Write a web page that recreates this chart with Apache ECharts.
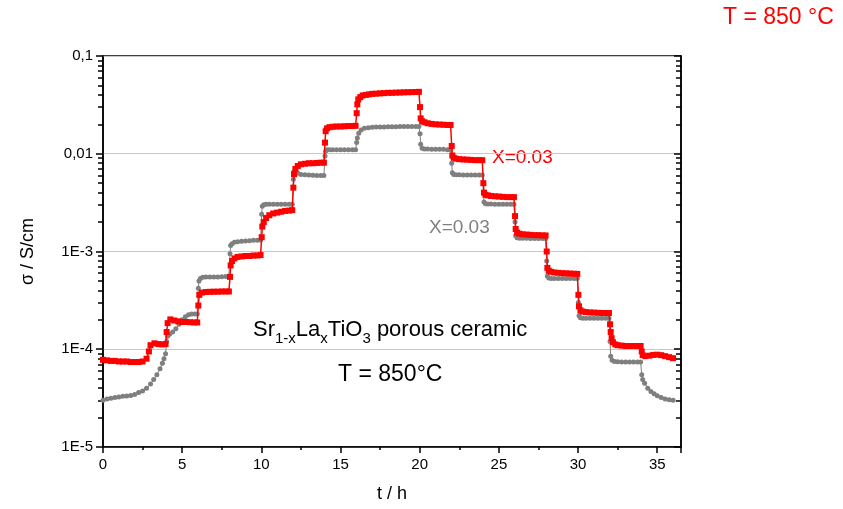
<!DOCTYPE html>
<html>
<head>
<meta charset="utf-8">
<script src="https://cdn.jsdelivr.net/npm/echarts@6/dist/echarts.min.js"></script>
<style>html,body{margin:0;padding:0;background:#fff;}#c{width:843px;height:509px;}</style>
</head>
<body>
<div id="c"></div>
<script>
const xTicks = [0, 5, 10, 15, 20, 25, 30, 35];
const yTickLabels = {'-5': '1E-5', '-4': '1E-4', '-3': '1E-3', '-2': '0,01', '-1': '0,1'};

const redSeries = [
[0,7.8e-5],[0.25,7.7e-5],[0.5,7.6e-5],[0.75,7.6e-5],[1,7.5e-5],[1.25,7.5e-5],[1.5,7.5e-5],[1.75,7.4e-5],[2,7.4e-5],[2.25,7.4e-5],[2.5,7.5e-5],[2.75,8.0e-5],[2.9,9.5e-5],[3,1.1e-4],[3.25,1.15e-4],[3.5,1.13e-4],[3.75,1.12e-4],[3.95,1.13e-4],
[4.02,1.5e-4],[4.08,1.85e-4],[4.25,2.02e-4],[4.5,1.97e-4],[4.75,1.93e-4],[5,1.9e-4],[5.25,1.9e-4],[5.5,1.89e-4],[5.75,1.88e-4],[5.95,1.88e-4],
[6.02,2.8e-4],[6.08,3.6e-4],[6.25,3.8e-4],[6.5,3.85e-4],[6.75,3.87e-4],[7,3.88e-4],[7.25,3.88e-4],[7.5,3.9e-4],[7.75,3.9e-4],[7.95,3.9e-4],
[8.02,5.5e-4],[8.06,7.2e-4],[8.15,8.0e-4],[8.3,8.5e-4],[8.5,8.8e-4],[8.75,8.9e-4],[9,9.0e-4],[9.25,9.0e-4],[9.5,9.1e-4],[9.75,9.1e-4],[9.95,9.2e-4],
[10.02,1.4e-3],[10.06,1.8e-3],[10.15,2.0e-3],[10.3,2.2e-3],[10.5,2.35e-3],[10.75,2.45e-3],[11,2.5e-3],[11.25,2.55e-3],[11.5,2.6e-3],[11.75,2.62e-3],[11.95,2.65e-3],
[12.02,4.5e-3],[12.06,6.2e-3],[12.15,7.0e-3],[12.3,7.5e-3],[12.5,7.8e-3],[12.75,7.9e-3],[13,8.0e-3],[13.25,8.0e-3],[13.5,8.05e-3],[13.75,8.1e-3],[13.95,8.1e-3],
[14.02,1.3e-2],[14.06,1.7e-2],[14.15,1.82e-2],[14.3,1.87e-2],[14.5,1.89e-2],[14.75,1.9e-2],[15,1.9e-2],[15.25,1.91e-2],[15.5,1.92e-2],[15.75,1.92e-2],[15.95,1.93e-2],
[16.02,2.6e-2],[16.06,3.2e-2],[16.12,3.6e-2],[16.25,3.8e-2],[16.4,3.95e-2],[16.6,4.0e-2],[16.8,4.05e-2],[17,4.1e-2],[17.25,4.12e-2],[17.5,4.15e-2],[17.75,4.17e-2],[18,4.2e-2],[18.25,4.2e-2],[18.5,4.22e-2],[18.75,4.23e-2],[19,4.25e-2],[19.25,4.26e-2],[19.5,4.27e-2],[19.75,4.28e-2],[19.95,4.3e-2],
[20.02,3.0e-2],[20.06,2.3e-2],[20.15,2.15e-2],[20.3,2.1e-2],[20.5,2.05e-2],[20.75,2.02e-2],[21,2.0e-2],[21.25,1.99e-2],[21.5,1.98e-2],[21.75,1.97e-2],[21.95,1.97e-2],
[22.02,1.2e-2],[22.06,9.6e-3],[22.15,9.1e-3],[22.3,8.9e-3],[22.5,8.8e-3],[22.75,8.75e-3],[23,8.7e-3],[23.25,8.65e-3],[23.5,8.6e-3],[23.75,8.6e-3],[23.95,8.6e-3],
[24.02,5.0e-3],[24.06,4.0e-3],[24.15,3.8e-3],[24.3,3.75e-3],[24.5,3.7e-3],[24.75,3.67e-3],[25,3.65e-3],[25.25,3.62e-3],[25.5,3.6e-3],[25.75,3.6e-3],[25.95,3.6e-3],
[26.02,2.3e-3],[26.06,1.7e-3],[26.15,1.56e-3],[26.3,1.52e-3],[26.5,1.5e-3],[26.75,1.49e-3],[27,1.48e-3],[27.25,1.47e-3],[27.5,1.47e-3],[27.75,1.46e-3],[27.95,1.46e-3],
[28.02,1.0e-3],[28.06,6.8e-4],[28.15,6.35e-4],[28.3,6.2e-4],[28.5,6.1e-4],[28.75,6.05e-4],[29,6.0e-4],[29.25,5.98e-4],[29.5,5.95e-4],[29.75,5.92e-4],[29.95,5.9e-4],
[30.02,3.6e-4],[30.06,2.75e-4],[30.15,2.5e-4],[30.3,2.43e-4],[30.5,2.4e-4],[30.75,2.38e-4],[31,2.37e-4],[31.25,2.36e-4],[31.5,2.35e-4],[31.75,2.35e-4],[31.95,2.35e-4],
[32.02,1.8e-4],[32.06,1.5e-4],[32.12,1.3e-4],[32.2,1.18e-4],[32.35,1.12e-4],[32.5,1.1e-4],[32.75,1.09e-4],[33,1.08e-4],[33.25,1.08e-4],[33.5,1.08e-4],[33.75,1.08e-4],[33.95,1.08e-4],
[34.02,9.5e-5],[34.08,8.7e-5],[34.25,8.5e-5],[34.5,8.6e-5],[34.75,8.75e-5],[35,8.8e-5],[35.25,8.7e-5],[35.5,8.5e-5],[35.75,8.3e-5],[36,8.1e-5]
];

const graySeries = [
[0,3.0e-5],[0.25,3.1e-5],[0.5,3.15e-5],[0.75,3.2e-5],[1,3.25e-5],[1.25,3.3e-5],[1.5,3.33e-5],[1.75,3.37e-5],[2,3.45e-5],[2.25,3.6e-5],[2.5,3.75e-5],[2.75,4.0e-5],[3,4.4e-5],[3.2,4.9e-5],[3.4,5.5e-5],[3.6,6.3e-5],[3.75,7.2e-5],[3.85,8.0e-5],[3.95,9.0e-5],[4.02,1.2e-4],[4.08,1.36e-4],
[4.2,1.42e-4],[4.4,1.5e-4],[4.6,1.62e-4],[4.8,1.8e-4],[5,2.0e-4],[5.2,2.15e-4],[5.4,2.25e-4],[5.6,2.3e-4],[5.8,2.3e-4],[5.95,2.3e-4],
[6.02,4.2e-4],[6.06,5.0e-4],[6.15,5.3e-4],[6.3,5.45e-4],[6.5,5.5e-4],[6.75,5.5e-4],[7,5.5e-4],[7.25,5.5e-4],[7.5,5.52e-4],[7.75,5.55e-4],[7.95,5.55e-4],
[8.02,9.5e-4],[8.06,1.15e-3],[8.15,1.2e-3],[8.3,1.24e-3],[8.5,1.26e-3],[8.75,1.27e-3],[9,1.28e-3],[9.25,1.29e-3],[9.5,1.3e-3],[9.75,1.3e-3],[9.95,1.31e-3],
[10.02,2.4e-3],[10.06,2.9e-3],[10.15,3.0e-3],[10.3,3.05e-3],[10.5,3.05e-3],[10.75,3.05e-3],[11,3.05e-3],[11.25,3.05e-3],[11.5,3.05e-3],[11.75,3.05e-3],[11.95,3.05e-3],
[12.02,5.5e-3],[12.06,6.6e-3],[12.15,6.5e-3],[12.3,6.3e-3],[12.5,6.15e-3],[12.75,6.1e-3],[13,6.05e-3],[13.25,6.02e-3],[13.5,6.0e-3],[13.75,6.0e-3],[13.95,6.0e-3],
[14.02,9.5e-3],[14.06,1.07e-2],[14.15,1.1e-2],[14.3,1.1e-2],[14.5,1.1e-2],[14.75,1.1e-2],[15,1.1e-2],[15.25,1.1e-2],[15.5,1.1e-2],[15.75,1.1e-2],[15.95,1.1e-2],
[16.02,1.3e-2],[16.06,1.45e-2],[16.15,1.62e-2],[16.3,1.75e-2],[16.5,1.82e-2],[16.75,1.85e-2],[17,1.87e-2],[17.25,1.88e-2],[17.5,1.88e-2],[17.75,1.88e-2],[18,1.89e-2],[18.25,1.89e-2],[18.5,1.89e-2],[18.75,1.9e-2],[19,1.9e-2],[19.25,1.9e-2],[19.5,1.9e-2],[19.75,1.9e-2],[19.95,1.9e-2],
[20.02,1.6e-2],[20.06,1.25e-2],[20.15,1.14e-2],[20.3,1.12e-2],[20.5,1.12e-2],[20.75,1.11e-2],[21,1.11e-2],[21.25,1.11e-2],[21.5,1.11e-2],[21.75,1.1e-2],[21.95,1.1e-2],
[22.02,8.0e-3],[22.06,6.4e-3],[22.15,6.15e-3],[22.3,6.1e-3],[22.5,6.08e-3],[22.75,6.07e-3],[23,6.07e-3],[23.25,6.06e-3],[23.5,6.05e-3],[23.75,6.05e-3],[23.95,6.05e-3],
[24.02,4.0e-3],[24.06,3.2e-3],[24.15,3.08e-3],[24.3,3.06e-3],[24.5,3.06e-3],[24.75,3.05e-3],[25,3.05e-3],[25.25,3.05e-3],[25.5,3.05e-3],[25.75,3.05e-3],[25.95,3.05e-3],
[26.02,2.0e-3],[26.06,1.45e-3],[26.15,1.38e-3],[26.3,1.37e-3],[26.5,1.37e-3],[26.75,1.37e-3],[27,1.36e-3],[27.25,1.36e-3],[27.5,1.36e-3],[27.75,1.36e-3],[27.95,1.36e-3],
[28.02,8.0e-4],[28.06,5.6e-4],[28.15,5.35e-4],[28.3,5.3e-4],[28.5,5.3e-4],[28.75,5.3e-4],[29,5.3e-4],[29.25,5.3e-4],[29.5,5.3e-4],[29.75,5.3e-4],[29.95,5.3e-4],
[30.02,3.0e-4],[30.06,2.2e-4],[30.15,2.1e-4],[30.3,2.08e-4],[30.5,2.08e-4],[30.75,2.07e-4],[31,2.07e-4],[31.25,2.07e-4],[31.5,2.07e-4],[31.75,2.07e-4],[31.95,2.07e-4],
[32.02,1.2e-4],[32.06,8.5e-5],[32.15,7.7e-5],[32.3,7.5e-5],[32.5,7.45e-5],[32.75,7.4e-5],[33,7.4e-5],[33.25,7.4e-5],[33.5,7.4e-5],[33.75,7.4e-5],[33.95,7.4e-5],
[34.02,5.5e-5],[34.08,4.9e-5],[34.2,4.5e-5],[34.4,4.0e-5],[34.6,3.7e-5],[34.8,3.5e-5],[35,3.35e-5],[35.25,3.2e-5],[35.5,3.1e-5],[35.75,3.05e-5],[36,3.0e-5]
];

const FONT = 'Liberation Sans, Arial, sans-serif';
const chart = echarts.init(document.getElementById('c'), null, {renderer: 'canvas'});

function yFmt(v) {
  const e = Math.round(Math.log10(v));
  return yTickLabels[String(e)] || '';
}
function xFmt(v) {
  return xTicks.indexOf(v) >= 0 ? String(v) : '';
}

const option = {
  backgroundColor: '#fff',
  animation: false,
  grid: {left: 103, right: 162, top: 56, bottom: 62, show: true, borderColor: '#000', borderWidth: 1.5, backgroundColor: 'transparent'},
  xAxis: [{
    type: 'value', min: 0, max: 36.5, interval: 5,
    axisLine: {show: true, onZero: false, lineStyle: {color: '#000', width: 1.5}},
    axisTick: {show: true, inside: false, length: 6, lineStyle: {color: '#000', width: 1.5}},
    axisLabel: {color: '#000', fontSize: 15, fontFamily: FONT, margin: 10, formatter: xFmt, showMaxLabel: true},
    splitLine: {show: false},
    name: 't / h', nameLocation: 'middle', nameGap: 38,
    nameTextStyle: {color: '#000', fontSize: 18, fontFamily: FONT}
  }, {
    type: 'value', min: 0, max: 36.5, interval: 2.5, position: 'bottom', offset: 0,
    axisLine: {show: false},
    axisTick: {show: true, inside: false, length: 3, lineStyle: {color: '#000', width: 1.5}},
    axisLabel: {show: false},
    splitLine: {show: false}
  }],
  yAxis: [{
    type: 'log', logBase: 10, min: 1e-5, max: 0.1, position: 'left',
    axisLine: {show: true, onZero: false, lineStyle: {color: '#000', width: 1.5}},
    axisTick: {show: true, inside: false, length: 7, lineStyle: {color: '#000', width: 1.5}},
    minorTick: {show: true, splitNumber: 9, length: 5, lineStyle: {color: '#000', width: 1.5}},
    axisLabel: {color: '#000', fontSize: 15, fontFamily: FONT, margin: 10, formatter: yFmt},
    splitLine: {show: true, lineStyle: {color: '#c8c8c8', width: 1}},
    name: 'σ / S/cm', nameLocation: 'middle', nameGap: 66, nameRotate: 90,
    nameTextStyle: {color: '#000', fontSize: 18, fontFamily: FONT}
  }, {
    type: 'log', logBase: 10, min: 1e-5, max: 0.1, position: 'right',
    axisLine: {show: true, onZero: false, lineStyle: {color: '#000', width: 1.5}},
    axisTick: {show: true, inside: true, length: 7, lineStyle: {color: '#000', width: 1.5}},
    minorTick: {show: true, splitNumber: 9, length: 5, lineStyle: {color: '#000', width: 1.5}},
    axisLabel: {show: false},
    splitLine: {show: false}
  }],
  series: [{
    type: 'line', name: 'gray', data: graySeries, xAxisIndex: 0, yAxisIndex: 0,
    symbol: 'circle', symbolSize: 5, showAllSymbol: true,
    itemStyle: {color: '#7f7f7f'},
    lineStyle: {color: '#7f7f7f', width: 1},
    z: 2
  }, {
    type: 'line', name: 'red', data: redSeries, xAxisIndex: 0, yAxisIndex: 0,
    symbol: 'rect', symbolSize: 6, showAllSymbol: true,
    itemStyle: {color: '#ff0000'},
    lineStyle: {color: '#ff0000', width: 1.5},
    z: 3
  }],
  graphic: [
    {type: 'text', left: 723, top: 6, style: {text: 'T = 850 °C', fill: '#ff0000', font: '23px ' + FONT}},
    {type: 'text', left: 492, top: 148, style: {text: 'X=0.03', fill: '#ff0000', font: '19px ' + FONT}},
    {type: 'text', left: 429, top: 218, style: {text: 'X=0.03', fill: '#808080', font: '19px ' + FONT}},
    {type: 'text', left: 253, top: 319, z: 10, style: {
      text: '{a|Sr}{s|1-x}{a|La}{s|x}{a|TiO}{s|3}{a| porous ceramic}',
      rich: {
        a: {fontSize: 22, fontFamily: FONT, fill: '#000', verticalAlign: 'bottom', padding: [0, 0, 5, 0]},
        s: {fontSize: 15, fontFamily: FONT, fill: '#000', verticalAlign: 'bottom'}
      }
    }},
    {type: 'text', left: 338, top: 363, z: 10, style: {text: 'T = 850°C', fill: '#000', font: '23px ' + FONT}}
  ]
};
chart.setOption(option);
</script>
</body>
</html>
